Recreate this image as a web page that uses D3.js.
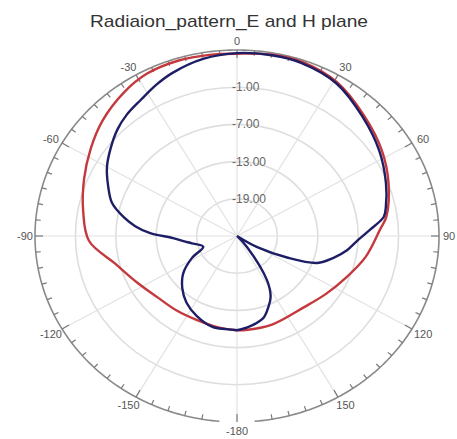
<!DOCTYPE html>
<html>
<head>
<meta charset="utf-8">
<script src="https://cdn.jsdelivr.net/npm/d3@7"></script>
<style>
  body { margin: 0; background: #fff; }
  svg { display: block; font-family: "Liberation Sans", Arial, sans-serif; }
</style>
</head>
<body>
<svg id="chart" width="457" height="439"></svg>
<script>
// angle tick labels (degrees, clockwise from top)
let angleTicks = [0, 30, 60, 90, 120, 150, 180, -150, -120, -90, -60, -30];
let angleLabels = ["0", "30", "60", "90", "120", "150", "-180", "-150", "-120", "-90", "-60", "-30"];

// radial rings (dB)
let ringValues = [-19, -13, -7, -1];
let ringLabels = ["-19.00", "-13.00", "-7.00", "-1.00"];

// red trace
let redAngles = [-180, -170, -156, -143, -130, -117, -104, -92, -80, -68, -57, -47, -36, -27, -17, -8, 0,
  10, 19, 31, 44, 57, 69, 82, 87, 100, 112, 125, 139, 160, 174, 180];
let redValues = [-9.8, -10.0, -10.2, -10.0, -9.6, -8.4, -6.4, -3.0, -1.8, -0.5, 0.9, 2.3, 3.6, 4.4, 4.6, 4.5, 4.4,
  4.7, 4.7, 3.9, 2.1, 0.6, -0.9, -2.6, -3.7, -5.6, -7.4, -8.8, -9.8, -9.8, -9.8, -9.8];

// blue trace
let blueAngles = [-180, -174, -166, -155, -145, -136, -127, -118, -109, -100, -96, -92, -88, -84, -80, -74, -67,
  -60, -53, -46, -40, -33, -26, -20, -10, 0, 10, 19, 31, 44, 57, 69, 78, 82, 87, 92, 98, 104, 110, 115, 121,
  128, 134, 140, 148, 153, 158, 163, 169, 174, 180];
let blueValues = [-9.8, -9.9, -9.9, -10.8, -11.9, -13.3, -15.0, -17.4, -19.7, -18.2, -17.0, -15.5, -12.1, -9.8, -8.0, -5.7, -4.2,
  -2.7, -1.5, -0.3, 0.5, 1.2, 2.2, 3.0, 4.0, 4.5, 4.6, 4.5, 3.7, 1.8, 0.2, -1.3, -2.4, -3.0, -5.2, -7.0, -8.5, -10.3, -12.3, -16.8, -21.5,
  -25, -25, -22.7, -16.6, -14.0, -12.6, -11.3, -10.6, -10.2, -9.8];

let svg = d3.select("#chart");
let cx = 237, cy = 236, rx = 202, ry = 186;

let r = d3.scaleLinear().domain([-25, 5]).range([0, 1]).clamp(true);
let rad = function(a){ return a * Math.PI / 180; };
let px = function(a, v){ return cx + r(v) * rx * Math.sin(rad(a)); };
let py = function(a, v){ return cy - r(v) * ry * Math.cos(rad(a)); };

svg.append("text")
    .attr("x", 229)
    .attr("y", 27)
    .attr("text-anchor", "middle")
    .attr("textLength", 278)
    .attr("lengthAdjust", "spacingAndGlyphs")
    .style("font-size", "17px")
    .style("fill", "#333")
    .text("Radiaion_pattern_E and H plane");

let grid = svg.append("g").attr("class", "grid");

// rings
grid.selectAll("ellipse")
    .data(ringValues)
    .enter().append("ellipse")
      .attr("cx", cx)
      .attr("cy", cy)
      .attr("rx", function(d){ return r(d) * rx; })
      .attr("ry", function(d){ return r(d) * ry; })
      .style("fill", "none")
      .style("stroke", "#dedede")
      .style("stroke-width", 1.6);

// spokes
grid.selectAll("line.spoke")
    .data(angleTicks)
    .enter().append("line")
      .attr("class", "spoke")
      .attr("x1", cx)
      .attr("y1", cy)
      .attr("x2", function(d){ return px(d, 5); })
      .attr("y2", function(d){ return py(d, 5); })
      .style("stroke", "#e2e2e2")
      .style("stroke-width", 1.2);

// outer circle (small gap at the bottom like the original)
let outerAngles = d3.range(-175, 176, 1);
grid.append("path")
    .attr("d", d3.line()
      .x(function(a){ return px(a, 5); })
      .y(function(a){ return py(a, 5); })(outerAngles))
    .style("fill", "none")
    .style("stroke", "#8a8a8a")
    .style("stroke-width", 1.6);

// minor ticks every 5 degrees
let minorTicks = d3.range(-170, 175, 5).concat([180]);
grid.selectAll("line.tick")
    .data(minorTicks)
    .enter().append("line")
      .attr("class", "tick")
      .attr("x1", function(a){ return cx + rx * Math.sin(rad(a)); })
      .attr("y1", function(a){ return cy - ry * Math.cos(rad(a)); })
      .attr("x2", function(a){ let l = a % 30 == 0 ? 8 : 5; return cx + (rx - l) * Math.sin(rad(a)); })
      .attr("y2", function(a){ let l = a % 30 == 0 ? 8 : 5; return cy - (ry - l) * Math.cos(rad(a)); })
      .style("stroke", "#7a7a7a")
      .style("stroke-width", 1.2);

svg.selectAll("text.angle")
    .data(angleTicks)
    .enter().append("text")
      .attr("class", "angle")
      .attr("x", function(d){
        let s = Math.sin(rad(d));
        return cx + (rx + 15 - 5 * Math.pow(Math.abs(s), 6)) * s;
      })
      .attr("y", function(d){ return cy - (ry + 9) * Math.cos(rad(d)); })
      .attr("text-anchor", "middle")
      .attr("dominant-baseline", "central")
      .style("font-size", "11px")
      .style("fill", "#555")
      .text(function(d, i){ return angleLabels[i]; });

svg.selectAll("text.ring")
    .data(ringValues)
    .enter().append("text")
      .attr("class", "ring")
      .attr("x", cx - 5)
      .attr("y", function(d){ return py(0, d); })
      .attr("dominant-baseline", "central")
      .style("font-size", "12px")
      .style("fill", "#666")
      .text(function(d, i){ return ringLabels[i]; });

let trace = d3.line()
    .x(function(d){ return px(d[0], d[1]); })
    .y(function(d){ return py(d[0], d[1]); })
    .curve(d3.curveCatmullRom.alpha(0.5));

svg.append("path")
    .attr("d", trace(d3.zip(redAngles, redValues)))
    .style("fill", "none")
    .style("stroke", "#c4393d")
    .style("stroke-width", 2.4);

svg.append("path")
    .attr("d", trace(d3.zip(blueAngles, blueValues)))
    .style("fill", "none")
    .style("stroke", "#1e1e66")
    .style("stroke-width", 2.4);
</script>
</body>
</html>
